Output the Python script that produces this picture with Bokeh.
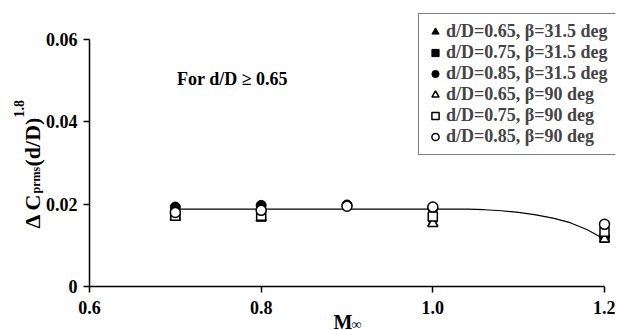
from math import pi
from bokeh.plotting import figure
from bokeh.models import Legend, LegendItem, Label, FixedTicker, CustomJSTickFormatter, Range1d
from bokeh.embed import file_html
from bokeh.resources import INLINE

# ---- data ----
mach_tri_f = [0.7, 0.8, 1.0, 1.2]
val_tri_f = [0.0170, 0.0168, 0.0155, 0.0116]
mach_sq_f = [0.7, 0.8, 1.0, 1.2]
val_sq_f = [0.0172, 0.0170, 0.0168, 0.0118]
mach_ci_f = [0.7, 0.8, 0.9, 1.0, 1.2]
val_ci_f = [0.0193, 0.0197, 0.0198, 0.0190, 0.0120]
mach_tri_o = [0.7, 0.8, 1.0, 1.2]
val_tri_o = [0.0168, 0.0166, 0.0153, 0.0115]
mach_sq_o = [0.7, 0.8, 1.0, 1.2]
val_sq_o = [0.0172, 0.0172, 0.0170, 0.0133]
mach_ci_o = [0.7, 0.8, 0.9, 1.0, 1.2]
val_ci_o = [0.0180, 0.0185, 0.0195, 0.0193, 0.0151]

fit_mach = [0.7, 0.8, 0.9, 1.0, 1.04, 1.06, 1.08, 1.10, 1.12, 1.14, 1.16, 1.18, 1.2]
fit_val = [0.0188, 0.0188, 0.0188, 0.0188, 0.0188, 0.01865, 0.0184, 0.0180, 0.0174, 0.0166, 0.0155, 0.0138, 0.0115]

labels = ["d/D=0.65, \u03b2=31.5 deg", "d/D=0.75, \u03b2=31.5 deg", "d/D=0.85, \u03b2=31.5 deg",
          "d/D=0.65, \u03b2=90 deg", "d/D=0.75, \u03b2=90 deg", "d/D=0.85, \u03b2=90 deg"]
x_ticks = [0.6, 0.8, 1.0, 1.2]
y_ticks = [0, 0.02, 0.04, 0.06]
x_lo, x_hi = 0.6, 1.2
y_lo, y_hi = 0.0, 0.06

FONT = "Liberation Serif"

# ---- layout geometry (canvas pixels) ----
W, H = 615, 330
PX_X0, PX_X1 = 89, 604     # pixel columns of x_lo, x_hi
PX_Y0, PX_Y1 = 286, 39     # pixel rows of y_lo, y_hi
xpp = (x_hi - x_lo) / (PX_X1 - PX_X0)
ypp = (y_hi - y_lo) / (PX_Y0 - PX_Y1)

p = figure(width=W, height=H, output_backend="svg", toolbar_location=None,
           x_range=Range1d(x_lo - PX_X0 * xpp, x_hi + (W - PX_X1) * xpp),
           y_range=Range1d(y_lo - (H - PX_Y0) * ypp, y_hi + PX_Y1 * ypp),
           min_border=0, min_border_left=0, min_border_right=0, min_border_top=0, min_border_bottom=0)
p.title.visible = False
p.outline_line_color = None
p.grid.visible = False

for ax in (p.xaxis[0], p.yaxis[0]):
    ax.axis_line_width = 1.5
    ax.major_tick_line_width = 1.5
    ax.major_tick_out = 6
    ax.major_tick_in = 0
    ax.minor_tick_out = 0
    ax.minor_tick_in = 0
    ax.major_label_text_font = FONT
    ax.major_label_text_font_style = "bold"
    ax.major_label_text_font_size = "18px"
    ax.major_label_text_color = "black"
    ax.axis_line_color = "black"
    ax.major_tick_line_color = "black"

p.xaxis.fixed_location = y_lo
p.yaxis.fixed_location = x_lo
p.xaxis.bounds = (x_lo, x_hi)
p.yaxis.bounds = (y_lo, y_hi)
p.xaxis.ticker = FixedTicker(ticks=x_ticks)
p.yaxis.ticker = FixedTicker(ticks=y_ticks)
p.xaxis.formatter = CustomJSTickFormatter(code="return tick.toFixed(1);")
p.yaxis.formatter = CustomJSTickFormatter(code="return Math.abs(tick) < 1e-9 ? '0' : tick.toFixed(2);")
p.xaxis.major_label_standoff = 8
p.yaxis.major_label_standoff = 6

p.line(fit_mach, fit_val, line_color="black", line_width=1.2)

sz = 10
r1 = p.scatter(mach_tri_f, val_tri_f, marker="triangle", size=sz, fill_color="black", line_color="black")
r2 = p.scatter(mach_sq_f, val_sq_f, marker="square", size=sz - 1, fill_color="black", line_color="black")
r3 = p.scatter(mach_ci_f, val_ci_f, marker="circle", size=sz, fill_color="black", line_color="black")
r4 = p.scatter(mach_tri_o, val_tri_o, marker="triangle", size=sz, fill_color="white", line_color="black", line_width=1.5)
r5 = p.scatter(mach_sq_o, val_sq_o, marker="square", size=sz - 1, fill_color="white", line_color="black", line_width=1.5)
r6 = p.scatter(mach_ci_o, val_ci_o, marker="circle", size=sz, fill_color="white", line_color="black", line_width=1.5)

legend = Legend(items=[LegendItem(label=l, renderers=[r]) for l, r in zip(labels, [r1, r2, r3, r4, r5, r6])],
                location=(418, 175))
legend.label_text_font = FONT
legend.label_text_font_style = "bold"
legend.label_text_font_size = "18px"
legend.label_height = 21
legend.glyph_height = 21
legend.glyph_width = 18
legend.label_standoff = 2
legend.spacing = 0
legend.padding = 7
legend.margin = 0
legend.border_line_color = "black"
legend.border_line_width = 1.5
legend.background_fill_alpha = 1
p.add_layout(legend)

p.add_layout(Label(x=0.702, y=0.0505, text="For d/D \u2265 0.65", text_font=FONT, text_font_style="bold",
                   text_font_size="18px", text_baseline="middle", text_color="black"))


def lab(text, x, y, size, angle=0.0):
    p.add_layout(Label(x=x, y=y, x_units="screen", y_units="screen", text=text, angle=angle,
                       text_font=FONT, text_font_style="bold", text_font_size=size,
                       text_align="left", text_baseline="alphabetic", text_color="black"))


# y-axis title: Delta C_prms (d/D)^1.8 (rotated pieces)
lab("\u0394 C", 32, H - 228, "22px", angle=pi / 2)
lab("prms", 35, H - 193, "12px", angle=pi / 2)
lab("(d/D)", 32, H - 166, "22px", angle=pi / 2)
lab("1.8", 18, H - 117, "14px", angle=pi / 2)

# x-axis title: M_inf
lab("M", 333, H - 321, "20px")
lab("\u221e", 351, H - 324, "14px")

open("out.html", "w").write(file_html(p, INLINE))
